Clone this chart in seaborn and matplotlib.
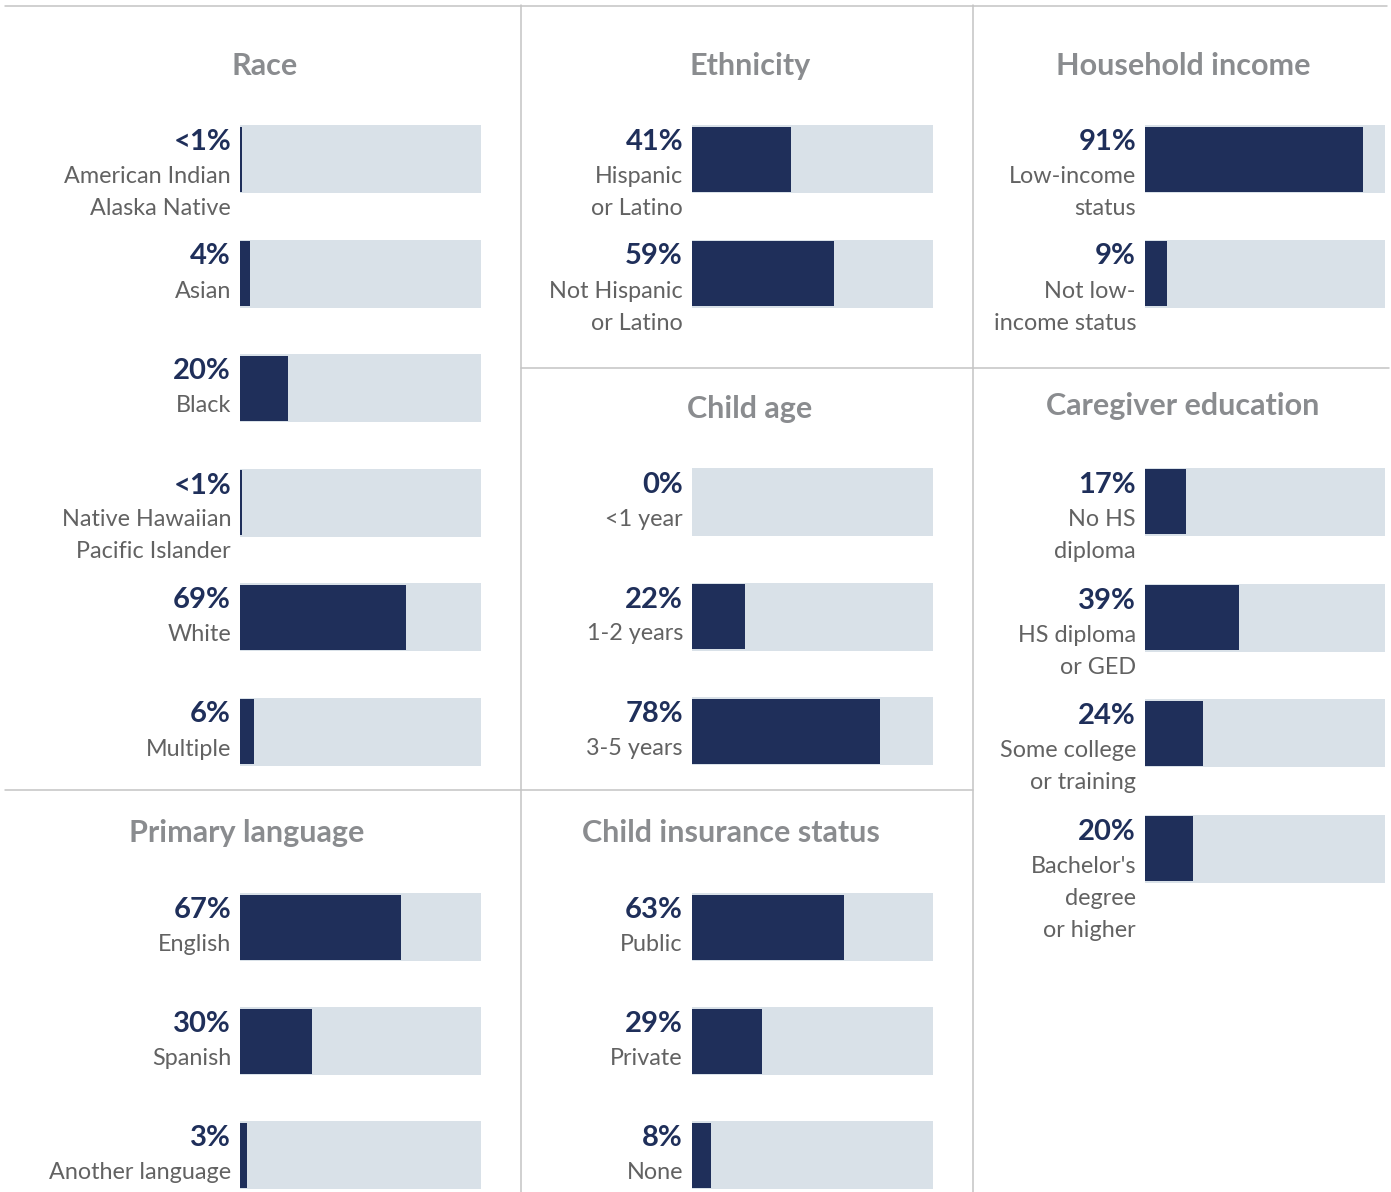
import numpy as np
import pandas as pd
import matplotlib.pyplot as plt
import seaborn as sns

sns.set_theme(style='white')
plt.rcParams['font.family'] = ['Lato', 'DejaVu Sans']

# data
race_labels = ["American Indian\nAlaska Native", "Asian", "Black",
               "Native Hawaiian\nPacific Islander", "White", "Multiple"]
race_values = [0.9, 4, 20, 0.9, 69, 6]

eth_labels = ["Hispanic\nor Latino", "Not Hispanic\nor Latino"]
eth_values = [41, 59]

income_labels = ["Low-income\nstatus", "Not low-\nincome status"]
income_values = [91, 9]

age_labels = ["<1 year", "1-2 years", "3-5 years"]
age_values = [0, 22, 78]

edu_labels = ["No HS\ndiploma", "HS diploma\nor GED", "Some college\nor training",
              "Bachelor's\ndegree\nor higher"]
edu_values = [17, 39, 24, 20]

lang_labels = ["English", "Spanish", "Another language"]
lang_values = [67, 30, 3]

ins_labels = ["Public", "Private", "None"]
ins_values = [63, 29, 8]

NAVY = '#1f2f5a'
TRACK = '#d9e1e8'
LABEL = '#626262'
TITLE = '#8a8c8f'
RULE = '#c4c4c4'

W, H = 1391, 1192
fig = plt.figure(figsize=(W / 100, H / 100), dpi=100)

# background axes for the panel rules
bg = fig.add_axes([0, 0, 1, 1])
bg.set_xlim(0, W)
bg.set_ylim(H, 0)
bg.axis('off')
rule = dict(color=RULE, lw=1.1)
bg.plot([5, 1387], [5.5, 5.5], **rule)
bg.plot([521, 521], [5, H], **rule)
bg.plot([973, 973], [5, H], **rule)
bg.plot([5, 973], [790, 790], **rule)
bg.plot([521, 1389], [368, 368], **rule)


def pct_text(v):
    if 0 < v < 1:
        return "<1%"
    return f"{v:.0f}%"


def draw_panel(title, title_xy, labels, values, left, first_top, step,
               width=241, bar_h=68):
    n = len(values)
    ax_top = first_top + bar_h / 2 - step / 2
    ax = fig.add_axes([left / W, 1 - (ax_top + n * step) / H, width / W, n * step / H])
    df = pd.DataFrame({'label': labels, 'value': values, 'full': [100] * n})
    sns.barplot(data=df, x='full', y='label', color=TRACK, width=bar_h / step,
                saturation=1, linewidth=0, ax=ax)
    sns.barplot(data=df, x='value', y='label', color=NAVY, width=(bar_h - 3) / step,
                saturation=1, linewidth=0, ax=ax)
    ax.set_xlim(0, 100)
    ax.set_ylim(n - 0.5, -0.5)
    ax.axis('off')

    for i, (lab, v) in enumerate(zip(labels, values)):
        top = i - bar_h / step / 2
        ax.annotate(pct_text(v), xy=(0, top), xytext=(-9, -25),
                    textcoords='offset pixels', ha='right', va='baseline',
                    fontsize=21, fontweight='bold', color=NAVY,
                    annotation_clip=False)
        for k, line in enumerate(lab.split('\n')):
            ax.annotate(line, xy=(0, top), xytext=(-9, -58 - 32 * k),
                        textcoords='offset pixels', ha='right', va='baseline',
                        fontsize=16.8, fontweight='normal', color=LABEL,
                        annotation_clip=False)

    fig.text(title_xy[0] / W, 1 - title_xy[1] / H, title, ha='center',
             va='baseline', fontsize=22, fontweight='bold', color=TITLE)


draw_panel("Race", (265, 75), race_labels, race_values, 240, 125, 114.5)
draw_panel("Ethnicity", (750, 75), eth_labels, eth_values, 692, 125, 114.5)
draw_panel("Household income", (1183, 75), income_labels, income_values, 1145, 125, 114.5, width=240)
draw_panel("Child age", (750, 418), age_labels, age_values, 692, 468, 114.5)
draw_panel("Caregiver education", (1183, 415), edu_labels, edu_values, 1145, 468, 115.6, width=240)
draw_panel("Primary language", (247, 842), lang_labels, lang_values, 240, 893, 114)
draw_panel("Child insurance status", (731, 842), ins_labels, ins_values, 692, 893, 114)

plt.savefig('out.png', dpi=100, facecolor='white')
